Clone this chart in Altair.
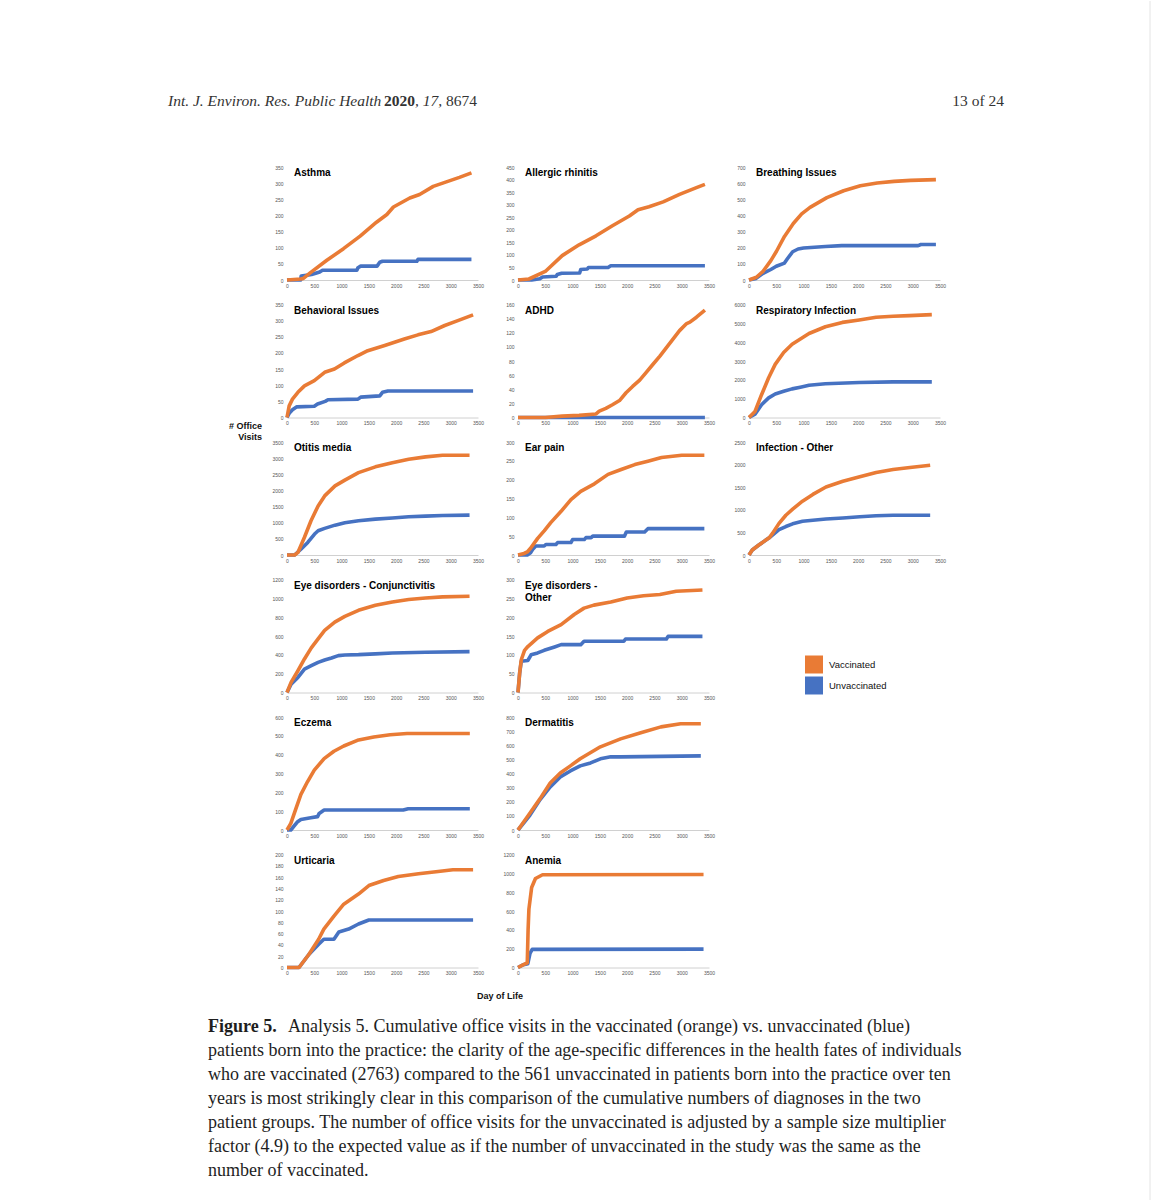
import altair as alt
import pandas as pd

# ---------------- data (day of life, cumulative office visits) ----------------
ASTHMA_V = [(0,0),(250,3),(300,5),(430,23),(730,61),(1035,97),(1340,136),(1640,179),(1830,203),(1950,226),(2250,254),(2430,265),(2680,290),(2920,304),(3160,318),(3380,332)]
ASTHMA_U = [(0,0),(250,0),(260,12),(450,17),(600,25),(650,30),(1280,30),(1300,38),(1350,43),(1650,43),(1700,55),(1750,58),(2380,58),(2400,64),(3380,64)]

ALLERGIC_V = [(0,0),(200,4),(500,34),(810,97),(1120,140),(1430,176),(1730,216),(2040,255),(2200,280),(2400,292),(2660,311),(2960,341),(3270,368),(3425,381)]
ALLERGIC_U = [(0,0),(250,0),(400,5),(450,12),(700,15),(720,22),(800,27),(1130,28),(1150,42),(1270,44),(1290,50),(1650,50),(1700,57),(3425,57)]

BREATHING_V = [(0,0),(135,17),(258,54),(400,120),(504,178),(650,270),(812,350),(965,410),(1119,450),(1427,510),(1734,553),(2041,584),(2349,601),(2657,611),(2964,617),(3425,622)]
BREATHING_U = [(0,0),(130,10),(250,40),(400,65),(500,85),(650,105),(700,130),(800,175),(900,192),(1000,198),(1400,208),(1700,213),(3100,213),(3150,220),(3425,220)]

BEHAVIORAL_V = [(0,0),(40,36),(100,57),(200,78),(320,98),(500,114),(690,140),(870,150),(1050,169),(1300,192),(1480,207),(1790,223),(1970,233),(2150,243),(2400,256),(2640,266),(2890,285),(3130,300),(3410,318)]
BEHAVIORAL_U = [(0,0),(40,13),(100,24),(180,33),(500,35),(560,42),(700,50),(750,55),(1300,57),(1350,63),(1700,67),(1750,78),(1850,82),(3410,82)]

ADHD_V = [(0,0),(500,0),(810,2),(1120,3),(1430,5),(1490,9),(1610,13),(1730,18),(1860,24),(1980,35),(2100,44),(2230,53),(2350,64),(2470,75),(2600,87),(2720,99),(2840,111),(2960,123),(3090,133),(3150,135),(3270,142),(3425,152)]
ADHD_U = [(0,0),(3425,0)]

RESP_V = [(0,0),(110,320),(230,1210),(360,2110),(480,2820),(635,3450),(790,3890),(1100,4460),(1400,4820),(1710,5050),(2020,5180),(2330,5320),(2640,5375),(2940,5410),(3350,5460)]
RESP_U = [(0,0),(110,180),(230,680),(360,1040),(480,1250),(635,1390),(790,1520),(940,1610),(1100,1710),(1400,1790),(2020,1860),(2640,1890),(3350,1890)]

OTITIS_V = [(0,0),(140,0),(200,80),(320,550),(440,1060),(570,1520),(690,1830),(880,2140),(1060,2320),(1310,2550),(1620,2730),(1930,2860),(2230,2965),(2540,3040),(2850,3090),(3345,3090)]
OTITIS_U = [(0,0),(140,0),(260,185),(380,390),(505,650),(570,750),(690,825),(880,925),(1060,1000),(1310,1060),(1620,1110),(1930,1145),(2230,1185),(2540,1205),(2850,1225),(3345,1235)]

EAR_V = [(0,0),(110,4),(170,8),(230,18),(360,44),(480,64),(600,86),(790,116),(970,147),(1150,169),(1400,189),(1650,214),(1890,227),(2140,240),(2380,249),(2630,259),(3000,265),(3415,265)]
EAR_U = [(0,0),(170,0),(230,6),(270,15),(325,24),(480,24),(510,28),(695,28),(725,33),(970,33),(1000,41),(1215,41),(1245,46),(1340,46),(1370,50),(1950,50),(1985,61),(2320,61),(2380,70),(3415,70)]

INFOTHER_V = [(0,0),(60,110),(180,220),(310,330),(370,380),(430,478),(550,700),(675,880),(800,1015),(980,1190),(1170,1340),(1410,1505),(1720,1630),(2030,1730),(2330,1825),(2640,1890),(2950,1935),(3320,1985)]
INFOTHER_U = [(0,0),(60,110),(180,220),(310,330),(370,380),(430,440),(550,560),(675,630),(800,690),(980,745),(1170,770),(1410,795),(1720,820),(2030,845),(2330,870),(2640,880),(3320,880)]

EYECONJ_V = [(0,0),(75,107),(200,231),(320,356),(445,474),(570,570),(690,659),(875,748),(1060,808),(1310,873),(1620,926),(1930,962),(2230,987),(2540,1004),(2850,1015),(3345,1022)]
EYECONJ_U = [(0,0),(75,89),(200,160),(320,249),(445,285),(570,320),(690,345),(815,367),(940,392),(1060,399),(1310,402),(1620,410),(1930,420),(2540,427),(3345,434)]

EYEOTHER_V = [(0,0),(30,51),(60,87),(120,112),(180,122),(360,145),(545,162),(790,180),(1030,207),(1210,224),(1390,232),(1700,240),(2000,251),(2300,257),(2600,260),(2900,269),(3380,272)]
EYEOTHER_U = [(0,0),(30,51),(60,83),(180,85),(240,100),(360,105),(480,112),(670,121),(790,127),(1150,127),(1210,136),(1940,136),(1970,142),(2720,142),(2750,149),(3380,149)]

ECZEMA_V = [(0,0),(70,35),(165,115),(255,189),(375,256),(500,318),(680,379),(860,418),(1040,446),(1290,476),(1590,494),(1890,506),(2200,512),(3350,512)]
ECZEMA_U = [(0,0),(70,0),(195,44),(255,56),(435,65),(560,71),(590,88),(680,106),(2130,106),(2220,113),(3350,113)]

DERM_V = [(0,0),(220,120),(405,222),(590,333),(775,404),(960,454),(1140,504),(1510,589),(1880,645),(2250,688),(2620,730),(2980,752),(3350,752)]
DERM_U = [(0,0),(220,106),(405,215),(590,305),(775,376),(960,418),(1140,454),(1330,475),(1510,504),(1700,518),(1880,518),(3350,525)]

URTICARIA_V = [(0,0),(220,0),(400,23),(580,50),(675,68),(860,91),(1040,112),(1310,130),(1500,145),(1770,154),(2040,161),(2410,166),(2770,170),(3040,173),(3410,173)]
URTICARIA_U = [(0,0),(220,0),(400,23),(580,41),(675,50),(860,50),(950,63),(1130,68),(1310,77),(1500,84),(3410,84)]

ANEMIA_V = [(0,0),(100,30),(170,50),(185,400),(200,620),(250,850),(320,945),(450,985),(3400,988)]
ANEMIA_U = [(0,0),(100,30),(180,40),(220,150),(260,192),(3400,195)]

TITLES = ["Asthma", "Allergic  rhinitis", "Breathing  Issues",
          "Behavioral  Issues", "ADHD", "Respiratory Infection",
          "Otitis media", "Ear pain", "Infection  - Other",
          "Eye disorders - Conjunctivitis", "Eye disorders -\nOther",
          "Eczema", "Dermatitis", "Urticaria", "Anemia"]
YMAX = [350, 450, 700, 350, 160, 6000, 3500, 300, 2500, 1200, 300, 600, 800, 200, 1200]
YSTEP = [50, 50, 100, 50, 20, 1000, 500, 50, 500, 200, 50, 100, 100, 20, 200]
VAX = [ASTHMA_V, ALLERGIC_V, BREATHING_V, BEHAVIORAL_V, ADHD_V, RESP_V, OTITIS_V, EAR_V,
       INFOTHER_V, EYECONJ_V, EYEOTHER_V, ECZEMA_V, DERM_V, URTICARIA_V, ANEMIA_V]
UNVAX = [ASTHMA_U, ALLERGIC_U, BREATHING_U, BEHAVIORAL_U, ADHD_U, RESP_U, OTITIS_U, EAR_U,
         INFOTHER_U, EYECONJ_U, EYEOTHER_U, ECZEMA_U, DERM_U, URTICARIA_U, ANEMIA_U]
X_TICKS = [0, 500, 1000, 1500, 2000, 2500, 3000, 3500]
SERIES = ["Vaccinated", "Unvaccinated"]

HEADER_JOURNAL = "Int. J. Environ. Res. Public Health"
HEADER_YEAR = "2020"
HEADER_VOL = ", 17,"
HEADER_PAGE = "8674"
HEADER_RIGHT = "13 of 24"
CAPTION_BOLD = "Figure 5."
CAPTION_LINES = [
    "Analysis 5. Cumulative office visits in the vaccinated (orange) vs. unvaccinated (blue)",
    "patients born into the practice: the clarity of the age-specific differences in the health fates of individuals",
    "who are vaccinated (2763) compared to the 561 unvaccinated in patients born into the practice over ten",
    "years is most strikingly clear in this comparison of the cumulative numbers of diagnoses in the two",
    "patient groups. The number of office visits for the unvaccinated is adjusted by a sample size multiplier",
    "factor (4.9) to the expected value as if the number of unvaccinated in the study was the same as the",
    "number of vaccinated.",
]
Y_TITLE = "# Office\nVisits"
X_TITLE = "Day of Life"

# ---------------- styling ----------------
W, H = 191, 113
ORANGE = "#E97B35"
BLUE = "#4672C2"
SANS = "Liberation Sans"
SERIF = "Liberation Serif"
OX, OY = 287, 166   # page position of first panel's plot origin


def txt(s, x, y, **kw):
    return alt.Chart(pd.DataFrame({"t": [s]})).mark_text(**kw).encode(
        text="t:N", x=alt.value(x), y=alt.value(y))


def page_layers():
    anchor = alt.Chart(pd.DataFrame({"a": [0]})).mark_rect(opacity=0).encode(
        x=alt.value(-OX), x2=alt.value(1172 - OX), y=alt.value(-OY), y2=alt.value(1200 - OY))
    edge = alt.Chart(pd.DataFrame({"a": [0]})).mark_rule(color="#e4e4e4", strokeWidth=1).encode(
        x=alt.value(1150 - OX), y=alt.value(-OY), y2=alt.value(1200 - OY))
    hdr = dict(font=SERIF, fontSize=15.5, color="#333333", align="left", baseline="alphabetic")
    cap = dict(font=SERIF, fontSize=18, color="#1e1e1e", align="left", baseline="alphabetic")
    lab = dict(font=SANS, fontSize=9, fontWeight="bold", color="#111111", baseline="alphabetic")
    return [
        anchor, edge,
        txt(HEADER_JOURNAL, 168 - OX, 105 - OY, fontStyle="italic", **hdr),
        txt(HEADER_YEAR, 384 - OX, 105 - OY, fontWeight="bold", **hdr),
        txt(HEADER_VOL, 415 - OX, 105 - OY, fontStyle="italic", **hdr),
        txt(HEADER_PAGE, 446 - OX, 105 - OY, **hdr),
        txt(HEADER_RIGHT, 1004 - OX, 105 - OY, **{**hdr, "align": "right"}),
        txt(CAPTION_BOLD, 208 - OX, 1031 - OY, fontWeight="bold", **cap),
        txt(CAPTION_LINES[0], 288 - OX, 1031 - OY, **cap),
        txt("\n".join(CAPTION_LINES[1:]), 208 - OX, 1055 - OY, lineBreak="\n", lineHeight=24, **cap),
        txt(Y_TITLE, 262 - OX, 428 - OY, align="right", lineBreak="\n", lineHeight=11, **lab),
        txt(X_TITLE, 500 - OX, 998 - OY, align="center", **lab),
    ]


def panel(i, extra=()):
    ymax, step = YMAX[i], YSTEP[i]
    xenc = alt.X("day:Q", scale=alt.Scale(domain=[0, 3500], nice=False),
                 axis=alt.Axis(values=X_TICKS, format="d", title=None))
    yenc = alt.Y("visits:Q", scale=alt.Scale(domain=[0, ymax], nice=False),
                 axis=alt.Axis(values=list(range(0, ymax + 1, step)), format="d", title=None))
    u = pd.DataFrame(UNVAX[i], columns=["day", "visits"])
    v = pd.DataFrame(VAX[i], columns=["day", "visits"])
    blue = alt.Chart(u).mark_line(color=BLUE, strokeWidth=3.6, strokeJoin="round").encode(x=xenc, y=yenc)
    orange = alt.Chart(v).mark_line(color=ORANGE, strokeWidth=3.6, strokeJoin="round").encode(x=xenc, y=yenc)
    title = txt(TITLES[i], 7, 1, align="left", baseline="top", font=SANS, fontSize=10,
                fontWeight="bold", color="#000000", lineBreak="\n", lineHeight=12)
    return alt.layer(*extra, blue, orange, title).properties(width=W, height=H)


legend_cell = alt.Chart(pd.DataFrame({"series": SERIES})).transform_filter("false").mark_square(
    filled=True, opacity=1).encode(
    color=alt.Color("series:N", scale=alt.Scale(domain=SERIES, range=[ORANGE, BLUE]),
                    legend=alt.Legend(orient="none", legendX=56, legendY=76, title=None,
                                      symbolType="square", symbolSize=324, symbolStrokeWidth=0,
                                      symbolOpacity=1,
                                      labelFont=SANS, labelFontSize=9.5, labelColor="#111111",
                                      rowPadding=3, labelOffset=6, padding=0))
).properties(width=W, height=H)

blank_cell = alt.Chart(pd.DataFrame({"a": [0]})).transform_filter("false").mark_point().properties(
    width=W, height=H)

cells = [panel(0, page_layers())] + [panel(i) for i in range(1, 11)] + [legend_cell] + \
        [panel(11), panel(12), blank_cell, panel(13), panel(14)]

chart = alt.concat(*cells, columns=3, spacing={"row": 24.5, "column": 40}, bounds="flush").resolve_scale(
    x="independent", y="independent", color="independent").resolve_axis(
    x="independent", y="independent").resolve_legend(color="independent").properties(
    padding=0, autosize=alt.AutoSizeParams(type="pad"), background="white"
).configure_view(stroke=None).configure_axis(
    labelFont=SANS, labelFontSize=5, labelColor="#555555", ticks=False, grid=False,
    labelFlush=False, labelOverlap=False
).configure_axisX(domainColor="#d0d0d0", domainWidth=1, labelPadding=3).configure_axisY(
    domain=False, labelPadding=4)

chart.save("out.html", embed_options={"renderer": "svg", "actions": False})
